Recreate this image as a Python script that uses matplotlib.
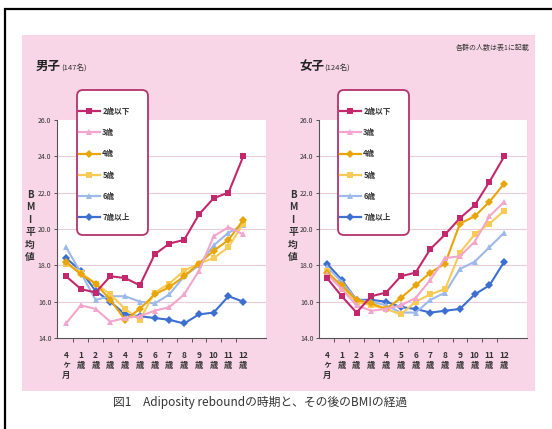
import matplotlib
matplotlib.use("Agg")
import matplotlib.pyplot as plt
from matplotlib.lines import Line2D
from matplotlib.patches import Rectangle, FancyBboxPatch

plt.rcParams['font.family'] = ['Noto Sans CJK JP', 'DejaVu Sans']

# x categories: 4 months, then 1..12 years
age_labels = ["4\nヶ\n月", "1\n歳", "2\n歳", "3\n歳", "4\n歳", "5\n歳", "6\n歳",
              "7\n歳", "8\n歳", "9\n歳", "10\n歳", "11\n歳", "12\n歳"]

# groups by age at adiposity rebound
groups = ["2歳以下", "3歳", "4歳", "5歳", "6歳", "7歳以上"]
colors = ["#C4286C", "#F2A6CC", "#E9A408", "#F9CB56", "#9DB9EA", "#3C6FD0"]
markers = ["s", "^", "D", "s", "^", "D"]

# boys (147)
boys_le2 = [17.4, 16.7, 16.5, 17.4, 17.3, 16.9, 18.6, 19.2, 19.4, 20.8, 21.7, 22.0, 24.0]
boys_3 = [14.8, 15.8, 15.6, 14.9, 15.1, 15.2, 15.5, 15.7, 16.4, 17.7, 19.6, 20.1, 19.7]
boys_4 = [18.2, 17.5, 17.0, 16.1, 15.0, 15.6, 16.4, 16.8, 17.4, 18.1, 18.8, 19.4, 20.5]
boys_5 = [18.1, 17.6, 17.0, 16.4, 15.6, 15.0, 16.5, 17.0, 17.7, 18.1, 18.4, 19.0, 20.3]
boys_6 = [19.0, 17.6, 16.1, 16.3, 16.3, 16.0, 15.9, 16.4, 17.4, 18.0, 19.1, 19.8, 20.2]
boys_ge7 = [18.4, 17.7, 16.6, 16.0, 15.3, 15.2, 15.1, 15.0, 14.8, 15.3, 15.4, 16.3, 16.0]

# girls (124)
girls_le2 = [17.3, 16.3, 15.4, 16.3, 16.5, 17.4, 17.6, 18.9, 19.7, 20.6, 21.3, 22.6, 24.0]
girls_3 = [17.5, 16.7, 15.8, 15.5, 15.6, 15.8, 16.2, 17.2, 18.4, 18.5, 19.3, 20.7, 21.5]
girls_4 = [17.6, 16.9, 16.1, 15.9, 15.6, 16.2, 16.9, 17.6, 18.1, 20.3, 20.7, 21.5, 22.5]
girls_5 = [17.7, 16.8, 16.0, 15.8, 15.6, 15.3, 16.0, 16.4, 16.7, 18.7, 19.7, 20.3, 21.0]
girls_6 = [17.9, 17.1, 16.1, 16.0, 15.8, 15.4, 15.4, 16.1, 16.5, 17.8, 18.2, 19.0, 19.8]
girls_ge7 = [18.1, 17.2, 16.1, 16.1, 16.0, 15.7, 15.6, 15.4, 15.5, 15.6, 16.4, 16.9, 18.2]

boys = [boys_le2, boys_3, boys_4, boys_5, boys_6, boys_ge7]
girls = [girls_le2, girls_3, girls_4, girls_5, girls_6, girls_ge7]

W, H = 552, 429
fig = plt.figure(figsize=(W / 100, H / 100), dpi=100)
fig.patch.set_facecolor("white")


def fx(px):
    return px / W


def fy(py):
    return 1 - py / H


def pixel_layer(z):
    lay = fig.add_axes([0, 0, 1, 1], zorder=z)
    lay.set_xlim(0, W)
    lay.set_ylim(H, 0)
    lay.axis("off")
    lay.patch.set_alpha(0)
    return lay


# background layer: pink panel and page frame (pixel coordinates, y downward)
bg = pixel_layer(-10)
bg.add_patch(Rectangle((22, 35), 513, 356, facecolor="#F8D6E8", edgecolor="none"))
bg.plot([W, 5, 5], [9, 9, H], color="black", lw=1.6, solid_joinstyle="miter",
        solid_capstyle="butt")

# overlay layer for the legend boxes (above the plots, below legend entries)
top = pixel_layer(1)

pink_line = "#B5336B"


def draw_panel(rect, series, x0, title, count, title_x, box_x, ylab_x):
    ax = fig.add_axes(rect)
    ax.set_facecolor("white")
    n = len(age_labels)
    xs = list(range(n))
    for i in reversed(range(len(groups))):
        ax.plot(xs, series[i], color=colors[i], marker=markers[i], lw=1.5,
                markersize=4.8 if markers[i] != "D" else 4.2,
                markeredgewidth=0, label=groups[i], zorder=3 + (5 - i) * 0.1)
    ax.set_ylim(14, 26)
    ax.set_xlim(x0, 13.54)
    ax.set_yticks([14, 16, 18, 20, 22, 24, 26])
    ax.set_yticklabels(["14.0", "16.0", "18.0", "20.0", "22.0", "24.0", "26.0"],
                       fontsize=5, color="#333333")
    for y in [16, 18, 20, 22, 24]:
        ax.axhline(y, color="#EACBDA", lw=0.8, zorder=1)
    ax.set_xticks(xs)
    ax.set_xticklabels(age_labels, fontsize=6, fontweight="bold", color="#333333",
                       linespacing=1.15, va="top")
    ax.set_xticks([i + 0.5 for i in range(n - 1)], minor=True)
    ax.tick_params(axis="x", which="major", length=0, pad=9)
    ax.tick_params(axis="x", which="minor", length=3, width=0.7, color="#555555",
                   direction="out")
    ax.tick_params(axis="y", length=2.5, width=0.7, color="#555555", pad=1.5)
    for s in ["top", "right"]:
        ax.spines[s].set_visible(False)
    for s in ["left", "bottom"]:
        ax.spines[s].set_color("#555555")
        ax.spines[s].set_linewidth(0.8)

    # titles
    fig.text(fx(title_x), fy(70), title, fontsize=9, fontweight="bold",
             color="#222222", ha="left", va="baseline")
    fig.text(fx(title_x + 25), fy(70), count, fontsize=5.5, color="#333333",
             ha="left", va="baseline")
    # vertical y label
    fig.text(fx(ylab_x), fy(226), "B\nM\nI\n平\n均\n値", fontsize=7,
             fontweight="bold", color="#333333", ha="center", va="center",
             linespacing=1.3)

    # legend: rounded white box with entries inside
    top.add_patch(FancyBboxPatch((box_x, 90), 71, 145,
                                 boxstyle="round,pad=0,rounding_size=6",
                                 facecolor="white", edgecolor=pink_line, lw=1.3))
    handles = [Line2D([0], [0], color=colors[i], marker=markers[i], lw=1.6,
                      markersize=4.8 if markers[i] != "D" else 4.2,
                      markeredgewidth=0) for i in range(len(groups))]
    leg = fig.legend(handles, groups, loc="center left",
                     bbox_to_anchor=(fx(box_x + 2), fy(164.5)),
                     bbox_transform=fig.transFigure, borderaxespad=0,
                     fontsize=5.5, handlelength=2.7, handletextpad=0.35,
                     labelspacing=1.6, borderpad=0, frameon=False)
    leg.set_zorder(10)
    for t in leg.get_texts():
        t.set_fontweight("bold")
        t.set_color("#333333")
    return ax


draw_panel([fx(57), fy(338), fx(266) - fx(57), fy(120) - fy(338)], boys, -0.61,
           "男子", "(147名)", 36, 77, 30)
draw_panel([fx(319), fy(338), fx(527) - fx(319), fy(120) - fy(338)], girls, -0.54,
           "女子", "(124名)", 299, 338, 293)

fig.text(fx(530), fy(50), "各群の人数は表1に記載", fontsize=5, color="#333333",
         ha="right", va="baseline")
fig.text(fx(113), fy(406), "図1　Adiposity reboundの時期と、その後のBMIの経過",
         fontsize=8.5, color="#333333", ha="left", va="baseline")

fig.savefig("out.png", dpi=100)
